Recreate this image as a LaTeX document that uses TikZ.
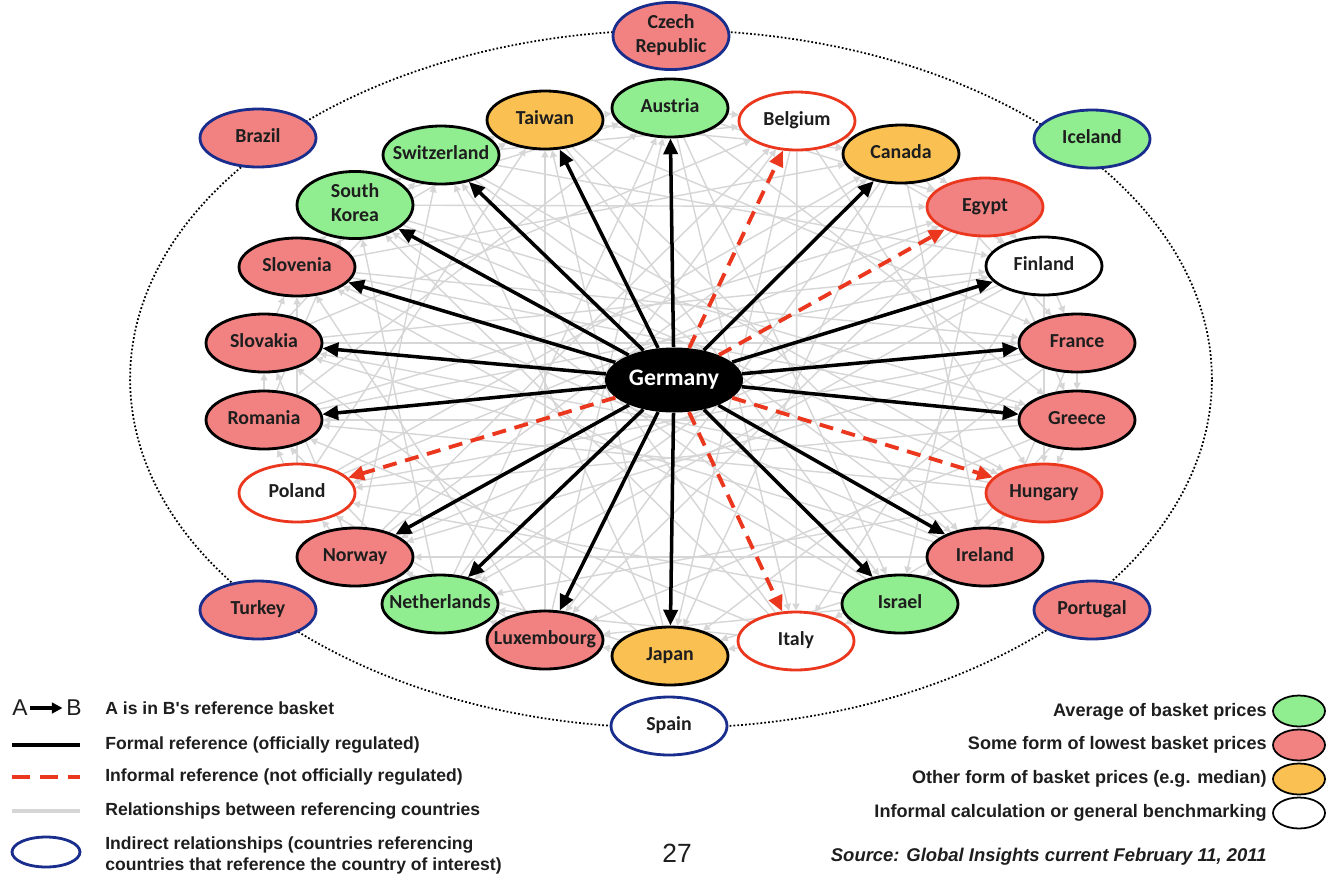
\documentclass[tikz,border=0pt]{standalone}
\usepackage{fontspec}
\setmainfont{Carlito}
\newfontfamily\arialf{Liberation Sans}
\usetikzlibrary{arrows.meta,shapes.geometric}
\definecolor{cgreen}{RGB}{144,238,144}
\definecolor{cred}{RGB}{242,130,130}
\definecolor{corange}{RGB}{250,192,82}
\definecolor{cblue}{RGB}{25,45,140}
\definecolor{cbred}{RGB}{235,55,30}
\definecolor{cweb}{RGB}{214,214,214}
\definecolor{ctext}{RGB}{30,30,30}
\pgfdeclarelayer{bglayer}
\pgfdeclarelayer{weblayer}
\pgfsetlayers{bglayer,weblayer,main}
\newcommand{\nt}[1]{\makebox[0pt]{\begin{tabular}{@{}c@{}}#1\end{tabular}}}
\tikzset{
  country/.style={ellipse, draw=black, line width=1.6pt, minimum width=2.32cm, minimum height=1.16cm,
    inner sep=0pt, font=\bfseries\fontsize{11.3}{13.5}\selectfont, text=ctext},
  gf/.style={fill=cgreen}, rf/.style={fill=cred}, of/.style={fill=corange}, wf/.style={fill=white},
  indirect/.style={draw=cblue},
  informal/.style={draw=cbred},
  formal/.style={draw=black, line width=2pt, -{Triangle[length=9pt,width=8pt]}},
  infarrow/.style={draw=cbred, line width=2.2pt, dash pattern=on 8pt off 5pt, -{Triangle[length=9pt,width=8pt]}},
  webline/.style={draw=cweb, line width=0.8pt, -{Triangle[length=4pt,width=4pt]}},
  legtext/.style={anchor=west, inner sep=0pt, text=ctext, font=\arialf\bfseries\fontsize{10}{12}\selectfont},
  legtextr/.style={anchor=east, inner sep=0pt, text=ctext, font=\arialf\bfseries\fontsize{10.3}{12}\selectfont},
  legell/.style={ellipse, line width=1pt, minimum width=1.04cm, minimum height=0.62cm, inner sep=0pt}
}
\begin{document}
\begin{tikzpicture}[x=0.02cm, y=-0.02cm]
\useasboundingbox (0,0) rectangle (1326,877);
\begin{pgfonlayer}{bglayer}
  \fill[white] (0,0) rectangle (1326,877);
  \draw[line width=1pt, dash pattern=on 1pt off 1.2pt] (671,379) ellipse [x radius=10.82cm, y radius=6.98cm];
\end{pgfonlayer}

% inner ring
\node[country, gf] (r0) at (670,108) {\nt{Austria}};
\node[country, wf, informal] (r1) at (797,121) {\nt{Belgium}};
\node[country, of] (r2) at (901,154) {\nt{Canada}};
\node[country, rf, informal] (r3) at (985,207) {\nt{Egypt}};
\node[country, wf] (r4) at (1044,266) {\nt{Finland}};
\node[country, rf] (r5) at (1077,343) {\nt{France}};
\node[country, rf] (r6) at (1077,420) {\nt{Greece}};
\node[country, rf, informal] (r7) at (1044,493) {\nt{Hungary}};
\node[country, rf] (r8) at (985,557) {\nt{Ireland}};
\node[country, gf] (r9) at (900,604) {\nt{Israel}};
\node[country, wf, informal] (r10) at (796,641) {\nt{Italy}};
\node[country, of] (r11) at (670,656) {\nt{Japan}};
\node[country, rf] (r12) at (545,640) {\nt{Luxembourg}};
\node[country, gf] (r13) at (440,604) {\nt{Netherlands}};
\node[country, rf] (r14) at (355,557) {\nt{Norway}};
\node[country, wf, informal] (r15) at (297,493) {\nt{Poland}};
\node[country, rf] (r16) at (264,420) {\nt{Romania}};
\node[country, rf] (r17) at (264,343) {\nt{Slovakia}};
\node[country, rf] (r18) at (297,267) {\nt{Slovenia}};
\node[country, gf] (r19) at (355,205) {\nt{South\\Korea}};
\node[country, gf] (r20) at (441,155) {\nt{Switzerland}};
\node[country, of] (r21) at (545,120) {\nt{Taiwan}};

% outer (indirect)
\node[country, rf, indirect] (cz) at (671,36) {\nt{Czech\\Republic}};
\node[country, rf, indirect] (br) at (258,138) {\nt{Brazil}};
\node[country, gf, indirect] (ic) at (1092,139) {\nt{Iceland}};
\node[country, rf, indirect] (tu) at (258,610) {\nt{Turkey}};
\node[country, rf, indirect] (pt) at (1092,610) {\nt{Portugal}};
\node[country, wf, indirect] (sp) at (669,726) {\nt{Spain}};

% Germany
\node[ellipse, fill=black, minimum width=2.76cm, minimum height=1.3cm, inner sep=0pt,
  text=white, font=\bfseries\fontsize{13.5}{15}\selectfont] (de) at (674,380) {\makebox[0pt]{Germany}};

% web of relationships
\begin{pgfonlayer}{weblayer}
\foreach \i in {0,...,21}{
  \foreach \k in {1,3,6,9,10}{
    \pgfmathtruncatemacro\j{mod(\i+\k,22)}
    \draw[webline] (r\i) -- (r\j);
  }
}
\end{pgfonlayer}

% formal references
\foreach \t in {0,2,4,5,6,8,9,11,12,13,14,16,17,18,19,20,21}{
  \draw[formal] (de) -- (r\t);
}
% informal references
\foreach \t in {1,3,7,10,15}{
  \draw[infarrow] (de) -- (r\t);
}

% left legend
\node[inner sep=0pt, text=ctext, font=\arialf\fontsize{13}{15}\selectfont] (legA) at (20,708) {A};
\node[inner sep=0pt, text=ctext, font=\arialf\fontsize{13}{15}\selectfont] (legB) at (74,708) {B};
\draw[black, line width=1.8pt, -{Triangle[length=6pt,width=6pt]}] (legA.east) ++(2,0) coordinate (la1) (la1) -- ([xshift=-2pt]legB.west);
\node[legtext] (t1) at (105,708) {A is in B's reference basket};
\node[legtext] (t2) at (105,745) {Formal reference (officially regulated)};
\node[legtext] (t3) at (105,777) {Informal reference (not officially regulated)};
\node[legtext] (t4) at (105,811) {Relationships between referencing countries};
\node[legtext, align=left] (t5) at (105,855) {Indirect relationships (countries referencing\\countries that reference the country of interest)};
\coordinate (l2a) at (12,745); \coordinate (l2b) at (80,745);
\draw[black, line width=2pt] (l2a) -- (l2b);
\coordinate (l3a) at (12,777); \coordinate (l3b) at (80,777);
\draw[cbred, line width=2.2pt, dash pattern=on 10pt off 6pt] (l3a) -- (l3b);
\coordinate (l4a) at (12,811); \coordinate (l4b) at (80,811);
\draw[cweb, line width=2.6pt] (l4a) -- (l4b);
\node[legell, draw=cblue, line width=1.6pt, minimum width=1.36cm, minimum height=0.6cm] (le) at (46,852) {};

% right legend
\node[legtextr] (s1) at (1267,712) {Average of basket prices};
\node[legtextr] (s2) at (1267,745) {Some form of lowest basket prices};
\node[legtextr] (s3) at (1267,779) {Other form of basket prices (e.g. median)};
\node[legtextr] (s4) at (1267,813) {Informal calculation or general benchmarking};
\node[legell, draw=black, fill=cgreen] (e1) at (1299,711) {};
\node[legell, draw=black, fill=cred] (e2) at (1299,745) {};
\node[legell, draw=black, fill=corange] (e3) at (1299,779) {};
\node[legell, draw=black, fill=white] (e4) at (1299,813) {};
\node[anchor=east, inner sep=0pt, text=ctext, font=\arialf\bfseries\itshape\fontsize{10.5}{12}\selectfont] (src) at (1267,857) {Source: Global Insights current February 11, 2011};

% page number
\node[inner sep=0pt, text=ctext, font=\arialf\fontsize{15}{17}\selectfont] (pg) at (677,853) {27};
\end{tikzpicture}
\end{document}
